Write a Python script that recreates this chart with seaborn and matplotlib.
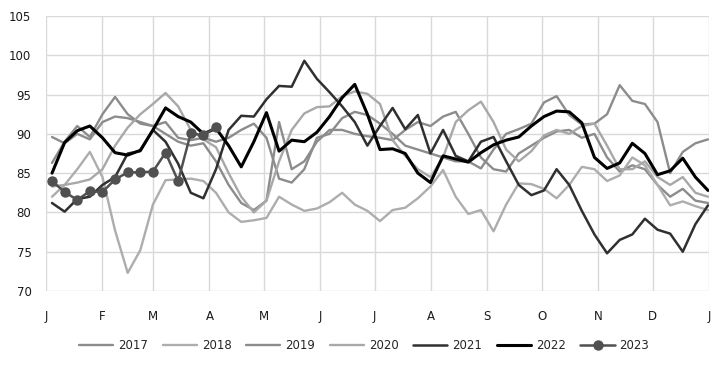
import numpy as np
import pandas as pd
import matplotlib.pyplot as plt
import seaborn as sns

# weekly index values, one list per year
weeks = list(range(53))

y2017 = [86.3, 89.0, 91.0, 89.6, 92.5, 94.7, 92.5, 91.3, 91.0, 90.0, 89.0, 88.5, 88.8, 86.5, 83.5, 81.2, 80.3, 81.5,
         91.5, 85.5, 86.5, 89.0, 90.5, 90.5, 90.0, 89.7, 89.5, 89.2, 90.5, 91.5, 91.0, 92.2, 92.8, 90.0, 87.0, 85.5,
         85.2, 87.5, 88.5, 89.5, 90.3, 90.5, 89.5, 90.0, 87.0, 85.2, 86.0, 85.5, 83.5, 82.0, 83.0, 81.5, 81.2]
y2018 = [82.0, 83.5, 85.5, 87.7, 84.5, 77.7, 72.3, 75.2, 81.0, 84.1, 84.2, 84.3, 84.0, 82.5, 80.0, 78.8, 79.0, 79.3,
         82.0, 81.0, 80.2, 80.5, 81.3, 82.5, 81.0, 80.2, 78.9, 80.3, 80.6, 81.8, 83.3, 85.4, 82.0, 79.8, 80.3, 77.6,
         81.0, 83.7, 83.6, 83.0, 81.8, 83.5, 85.8, 85.5, 84.0, 84.7, 87.0, 86.0, 83.5, 80.9, 81.4, 80.8, 80.3]
y2019 = [89.6, 88.8, 90.0, 89.3, 91.5, 92.2, 92.0, 91.5, 91.0, 91.5, 89.5, 89.2, 89.5, 89.0, 89.5, 90.5, 91.3, 89.5,
         84.3, 83.8, 85.5, 89.5, 90.0, 92.0, 92.8, 92.4, 91.3, 90.0, 88.5, 88.0, 87.5, 87.0, 86.5, 86.5, 85.6, 88.0,
         90.0, 90.6, 91.3, 94.0, 94.8, 92.4, 91.2, 91.3, 92.5, 96.2, 94.2, 93.8, 91.5, 85.0, 87.7, 88.8, 89.3]
y2020 = [83.3, 83.5, 83.8, 84.2, 85.5, 88.5, 90.8, 92.5, 93.8, 95.2, 93.5, 90.5, 89.3, 88.3, 85.0, 82.0, 80.0, 81.5,
         86.5, 90.5, 92.6, 93.4, 93.5, 94.8, 95.4, 95.1, 93.8, 89.2, 87.2, 85.5, 84.5, 87.0, 91.5, 93.0, 94.1, 91.5,
         88.0, 86.5, 87.8, 89.8, 90.5, 90.0, 91.0, 91.3, 88.5, 85.5, 85.5, 86.5, 84.5, 83.5, 84.5, 82.5, 82.0]
y2021 = [81.2, 80.1, 81.7, 82.0, 83.5, 84.5, 87.5, 87.8, 90.5, 89.0, 86.2, 82.5, 81.8, 85.5, 90.5, 92.3, 92.2, 94.4,
         96.1, 96.0, 99.3, 97.0, 95.3, 93.5, 91.5, 88.5, 91.0, 93.3, 90.6, 92.4, 87.5, 90.5, 87.2, 86.5, 89.0, 89.6,
         86.5, 83.5, 82.2, 82.8, 85.5, 83.5, 80.2, 77.2, 74.8, 76.5, 77.2, 79.2, 77.8, 77.3, 75.0, 78.5, 80.9]
y2022 = [85.0, 88.9, 90.4, 91.0, 89.5, 87.6, 87.3, 87.9, 90.5, 93.3, 92.2, 91.5, 90.0, 90.7, 88.5, 85.8, 89.0, 92.7,
         87.8, 89.2, 89.0, 90.2, 92.2, 94.6, 96.3, 92.5, 88.0, 88.1, 87.5, 85.0, 83.8, 87.2, 86.8, 86.4, 87.6, 88.6,
         89.2, 89.6, 91.0, 92.2, 92.9, 92.8, 91.4, 87.0, 85.6, 86.3, 88.8, 87.5, 84.8, 85.3, 86.9, 84.5, 82.8]
y2023 = [84.0, 82.6, 81.6, 82.7, 82.6, 84.2, 85.1, 85.1, 85.2, 87.6, 84.0, 90.1, 89.8, 90.9]

month_labels = ['J', 'F', 'M', 'A', 'M', 'J', 'J', 'A', 'S', 'O', 'N', 'D', 'J']
month_days = [0, 31, 59, 90, 120, 151, 181, 212, 243, 273, 304, 334, 365]

series = {'2017': y2017, '2018': y2018, '2019': y2019, '2020': y2020,
          '2021': y2021, '2022': y2022, '2023': y2023}
colors = {'2017': '#8c8c8c', '2018': '#adadad', '2019': '#8c8c8c', '2020': '#a8a8a8',
          '2021': '#303030', '2022': '#000000', '2023': '#505050'}
widths = {'2017': 1.7, '2018': 1.7, '2019': 1.7, '2020': 1.7, '2021': 1.8, '2022': 2.2, '2023': 1.8}

sns.set_theme(style='whitegrid')
plt.rcParams['font.family'] = ['DejaVu Sans']

fig = plt.figure(figsize=(7.21, 3.66), dpi=100)
ax = fig.add_axes([46 / 721, 1 - 291 / 366, 663 / 721, 275 / 366])

for year, vals in series.items():
    df = pd.DataFrame({'week': weeks[:len(vals)], 'value': vals})
    if year == '2023':
        sns.lineplot(data=df, x='week', y='value', ax=ax, color=colors[year], linewidth=widths[year],
                     marker='o', markersize=7.5, markeredgewidth=0, label=year,
                     solid_joinstyle='round', solid_capstyle='round')
    else:
        sns.lineplot(data=df, x='week', y='value', ax=ax, color=colors[year], linewidth=widths[year],
                     label=year, solid_joinstyle='round', solid_capstyle='round')

x_left, x_right = -0.476, 52.08
ax.set_xlim(x_left, x_right)
ax.set_ylim(70, 105)
ax.set_yticks(range(70, 106, 5))
ax.set_xticks([x_left + d / 365 * (x_right - x_left) for d in month_days])
ax.set_xticklabels(month_labels)
ax.set_xlabel('')
ax.set_ylabel('')
for s in ax.spines.values():
    s.set_visible(False)
ax.grid(True, color='#d9d9d9', linewidth=1.0)
ax.tick_params(axis='x', pad=14, labelsize=8.5, colors='#1a1a1a', length=0)
ax.tick_params(axis='y', pad=10.5, labelsize=8.5, colors='#1a1a1a', length=0)

ax.legend(loc='center', bbox_to_anchor=(0.505, 0.055), bbox_transform=fig.transFigure, ncol=7,
          frameon=False, fontsize=8.5, handlelength=2.9, columnspacing=1.25, handletextpad=0.4)

fig.savefig('out.png', dpi=100)
